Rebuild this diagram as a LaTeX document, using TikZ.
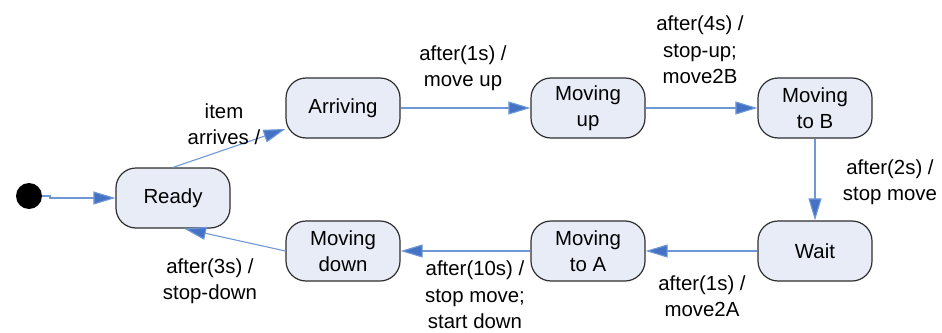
\documentclass[tikz,border=0pt]{standalone}
\usepackage{fontspec}
\setmainfont{Liberation Sans}
\usetikzlibrary{arrows.meta,positioning}
\definecolor{Sf}{HTML}{E7ECF7}
\definecolor{Sd}{HTML}{2E2E2E}
\definecolor{Tc}{HTML}{6F97D6}
\definecolor{Tk}{HTML}{4472C4}
\tikzset{
  st/.style={rectangle, rounded corners=10pt, draw=Sd, line width=0.6pt, fill=Sf,
    minimum width=57pt, minimum height=30pt, inner sep=1pt, align=center,
    font=\fontsize{10.2}{13.2}\selectfont},
  ini/.style={circle, fill=black, inner sep=0pt, minimum size=13pt},
  tr/.style={-{Triangle[length=11pt, width=6.5pt, fill=Tk]}, draw=Tc, line width=0.55pt},
  lbl/.style={align=center, inner sep=0pt, font=\fontsize{10.2}{13.2}\selectfont},
}

\begin{document}
\begin{tikzpicture}[x=0.5pt, y=-0.5pt]
  \useasboundingbox (0,0) rectangle (942,332);
  % states
  \node[ini] (init) at (29,196) {};
  \node[st] (ready) at (173,198) {Ready};
  \node[st] (arr) at (343,108) {Arriving};
  \node[st] (mup) at (588,108) {Moving\\up};
  \node[st] (mtb) at (815,108) {Moving\\to B};
  \node[st] (wait) at (815,251) {Wait};
  \node[st] (mta) at (588,251) {Moving\\to A};
  \node[st] (mdn) at (343,251) {Moving\\down};
  % transitions
  \draw[tr] (init) -- ++(21,0) |- (ready);
  \draw[tr] (ready.north) -- (arr.200);
  \draw[tr] (arr) -- (mup);
  \draw[tr] (mup) -- (mtb);
  \draw[tr] (mtb) -- (wait);
  \draw[tr] (wait) -- (mta);
  \draw[tr] (mta) -- (mdn);
  \draw[tr] (mdn.west) -- (ready.290);
  % labels
  \node[lbl] (l1) at (224,124) {item\\arrives /};
  \node[lbl] (l2) at (463,68) {after(1s) /\\move up};
  \node[lbl] (l3) at (700,50) {after(4s) /\\stop-up;\\move2B};
  \node[lbl] (l4) at (890,182) {after(2s) /\\stop move};
  \node[lbl] (l5) at (702,296) {after(1s) /\\move2A};
  \node[lbl] (l6) at (475,295) {after(10s) /\\stop move;\\start down};
  \node[lbl] (l7) at (210,281) {after(3s) /\\stop-down};
\end{tikzpicture}
\end{document}
